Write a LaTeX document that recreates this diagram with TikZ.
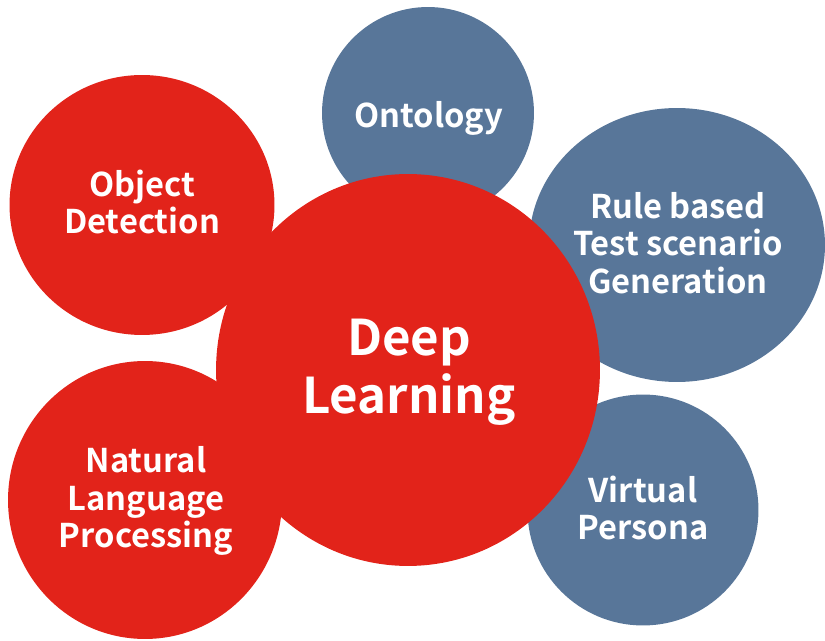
\documentclass[tikz,border=0pt]{standalone}
\usepackage{fontspec}
\setmainfont{Noto Sans CJK KR}[BoldFont={Noto Sans CJK KR Bold}]
\usetikzlibrary{shapes.geometric}

\definecolor{dlred}{RGB}{226,35,26}
\definecolor{topicblue}{RGB}{88,118,153}

\tikzset{
  blob/.style={ellipse, fill=#1, inner sep=0pt},
  topic/.style={text=white, inner sep=0pt, align=center,
                font=\bfseries\fontsize{18.6}{21.5}\selectfont},
  bigtopic/.style={topic, font=\bfseries\fontsize{28}{33}\selectfont},
}

\begin{document}
\begin{tikzpicture}[x=0.02cm, y=-0.02cm]
        \useasboundingbox (0,0) rectangle (825,641);

        % blue topics, behind
        \node (onto) [blob=topicblue, minimum width=4.24cm, minimum height=4.24cm] at (428,113) {};
        \node (rule) [blob=topicblue, minimum width=5.92cm, minimum height=5.48cm] at (677,245) {};
        \node (vp)   [blob=topicblue, minimum width=4.62cm, minimum height=4.62cm] at (643,510) {};

        % red topics
        \node (od)   [blob=dlred, minimum width=5.3cm, minimum height=5.2cm] at (142,205) {};
        \node (nlp)  [blob=dlred, minimum width=5.48cm, minimum height=5.56cm] at (145,500) {};
        \node (dl)   [blob=dlred, minimum width=7.68cm, minimum height=7.84cm] at (408,370) {};

        % labels
        \node (ontotext) [topic] at (429,118) {Ontology};
        \node (ruletext) [topic] at (678,243) {Rule based\\Test scenario\\Generation};
        \node (vptext)   [topic] at (643,508) {Virtual\\Persona};
        \node (odtext)   [topic] at (142,202) {Object\\Detection};
        \node (nlptext)  [topic] at (146,501) {Natural\\Language\\Processing};
        \node (dltext)   [bigtopic] at (409,372) {Deep\\Learning};
      \end{tikzpicture}
\end{document}
